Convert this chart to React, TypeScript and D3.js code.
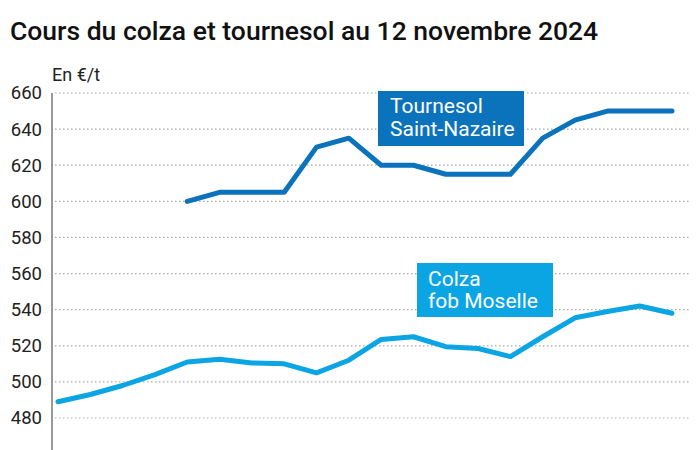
import React from 'react';
import * as d3 from 'd3';

// weekly prices, €/t (20 observations)
const colza = [489, 493, 498, 504, 511, 512.5, 510.5, 510, 505, 512, 523.5, 525, 519.5, 518.5, 514, 525, 535.5, 539, 542, 538];
// tournesol starts at the 5th observation
const tournesolStart = 4;
const tournesol = [600, 605, 605, 605, 630, 635, 620, 620, 615, 615, 615, 635, 645, 650, 650, 650];
const yTicks = [480, 500, 520, 540, 560, 580, 600, 620, 640, 660];

const title = 'Cours du colza et tournesol au 12 novembre 2024';
const unit = 'En €/t';
const tournesolLabel = ['Tournesol', 'Saint-Nazaire'];
const colzaLabel = ['Colza', 'fob Moselle'];

const W = 700;
const H = 450;
const font = 'Roboto, "Noto Sans", sans-serif';

export default function App() {
  const x = d3.scaleLinear().domain([0, colza.length - 1]).range([58, 672]);
  const y = d3.scaleLinear().domain([480, 660]).range([418, 93]);

  const colzaPath = d3.line<number>()
    .x((_, i) => x(i))
    .y(d => y(d))(colza);
  const tournesolPath = d3.line<number>()
    .x((_, i) => x(i + tournesolStart))
    .y(d => y(d))(tournesol);

  return (
    <svg width={W} height={H} style={{ position: 'absolute', left: 0, top: 0, background: '#fff' }}>
      <text x={10} y={40} fontFamily={font} fontSize={26.5} fontWeight={500} fill="#111">{title}</text>
      <text x={52} y={81} fontFamily={font} fontSize={18} fill="#222">{unit}</text>

      {yTicks.map(t => (
        <g key={t}>
          <line x1={55} x2={690} y1={y(t)} y2={y(t)} stroke="#aaa" strokeWidth={1.2} strokeDasharray="1.5,2.5" />
          <text x={42} y={y(t)} dy="0.35em" textAnchor="end" fontFamily={font} fontSize={18.5} fill="#222">{t}</text>
        </g>
      ))}
      <line x1={52} x2={52} y1={y(660)} y2={H} stroke="#555" strokeWidth={1.2} />

      <path d={tournesolPath ?? ''} fill="none" stroke="#0b73bb" strokeWidth={5} strokeLinejoin="round" strokeLinecap="round" />
      <path d={colzaPath ?? ''} fill="none" stroke="#0ba5e3" strokeWidth={5} strokeLinejoin="round" strokeLinecap="round" />

      <rect x={378} y={91} width={146} height={55} fill="#0b73bb" />
      {tournesolLabel.map((s, i) => (
        <text key={s} x={390} y={113 + i * 23} fontFamily={font} fontSize={21} fill="#fff">{s}</text>
      ))}
      <rect x={417} y={263} width={136} height={54} fill="#0ba5e3" />
      {colzaLabel.map((s, i) => (
        <text key={s} x={428} y={286 + i * 22} fontFamily={font} fontSize={21} fill="#fff">{s}</text>
      ))}
    </svg>
  );
}
